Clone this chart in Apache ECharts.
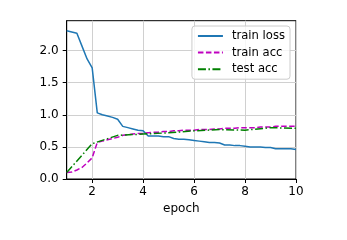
<!DOCTYPE html>
<html>
<head>
<meta charset="utf-8">
<script src="https://cdn.jsdelivr.net/npm/echarts@6/dist/echarts.min.js"></script>
<style>html,body{margin:0;padding:0;background:#fff;}#c{width:347px;height:240px;}</style>
</head>
<body>
<div id="c"></div>
<script>
const trainX = [1.0,1.2,1.4,1.6,1.8,2.0,2.2,2.4,2.6,2.8,3.0,3.2,3.4,3.6,3.8,4.0,4.2,4.4,4.6,4.8,5.0,5.2,5.4,5.6,5.8,6.0,6.2,6.4,6.6,6.8,7.0,7.2,7.4,7.6,7.8,8.0,8.2,8.4,8.6,8.8,9.0,9.2,9.4,9.6,9.8,10.0];
const trainLoss = [2.31,2.29,2.27,2.07,1.87,1.73,1.03,1.00,0.98,0.96,0.93,0.82,0.80,0.78,0.76,0.75,0.67,0.67,0.67,0.66,0.66,0.63,0.62,0.62,0.61,0.60,0.59,0.58,0.57,0.57,0.56,0.53,0.53,0.52,0.52,0.51,0.50,0.50,0.50,0.49,0.49,0.47,0.47,0.47,0.47,0.46];
const trainAcc = [0.10,0.11,0.14,0.18,0.25,0.33,0.57,0.59,0.61,0.63,0.65,0.68,0.69,0.70,0.71,0.71,0.72,0.73,0.73,0.74,0.74,0.75,0.75,0.76,0.76,0.76,0.77,0.77,0.77,0.78,0.78,0.79,0.79,0.79,0.80,0.80,0.80,0.80,0.81,0.81,0.81,0.82,0.82,0.82,0.82,0.82];
const testX = [1,2,3,4,5,6,7,8,9,10];
const testAcc = [0.10,0.55,0.68,0.70,0.72,0.75,0.77,0.76,0.80,0.79];
const xTicks = [2,4,6,8,10];
const yTicks = [0,0.5,1.0,1.5,2.0];
const seriesNames = ['train loss','train acc','test acc'];

const font = 'DejaVu Sans';
const pair = (xs, ys) => xs.map((x, i) => [x, ys[i]]);
const chart = echarts.init(document.getElementById('c'), null, {renderer: 'canvas'});
chart.setOption({
  animation: false,
  backgroundColor: '#fff',
  grid: {left: 66.7, right: 51, top: 20.7, bottom: 61, show: true, borderColor: '#000', borderWidth: 1, backgroundColor: 'transparent'},
  xAxis: {
    type: 'value', min: 1, max: 10,
    name: 'epoch', nameLocation: 'middle', nameGap: 23,
    nameTextStyle: {fontFamily: font, fontSize: 12, color: '#000'},
    axisLine: {show: true, lineStyle: {color: '#000', width: 1}},
    axisTick: {show: true, length: 4, inside: false, customValues: xTicks, lineStyle: {color: '#000'}},
    axisLabel: {customValues: xTicks, fontFamily: font, fontSize: 12, color: '#000', margin: 6.5},
    splitLine: {show: true, lineStyle: {color: '#d0d0d0', width: 1}}
  },
  yAxis: {
    type: 'value', min: 0, max: 2.466,
    axisLine: {show: true, lineStyle: {color: '#000', width: 1}},
    axisTick: {show: true, length: 4, customValues: yTicks, lineStyle: {color: '#000'}},
    axisLabel: {customValues: yTicks, fontFamily: font, fontSize: 12, color: '#000', margin: 8, formatter: v => v.toFixed(1)},
    splitLine: {show: true, lineStyle: {color: '#d0d0d0', width: 1}}
  },
  legend: {
    orient: 'vertical', right: 57, top: 26,
    data: seriesNames,
    itemWidth: 25, itemHeight: 14, itemGap: 4.6,
    padding: [4, 5, 4, 5],
    backgroundColor: 'rgba(255,255,255,0.8)',
    borderColor: '#cccccc', borderWidth: 1, borderRadius: 3,
    itemStyle: {opacity: 0},
    textStyle: {fontFamily: font, fontSize: 11.6, color: '#000', padding: [0, 0, 0, 4]}
  },
  series: [
    {name: seriesNames[0], type: 'line', data: pair(trainX, trainLoss), showSymbol: false, symbol: 'none', color: '#1f77b4', lineStyle: {width: 1.5, color: '#1f77b4'}, clip: true},
    {name: seriesNames[1], type: 'line', data: pair(trainX, trainAcc), showSymbol: false, symbol: 'none', color: '#bf00bf', lineStyle: {width: 1.5, color: '#bf00bf', type: [5.5, 2.5]}, clip: true},
    {name: seriesNames[2], type: 'line', data: pair(testX, testAcc), showSymbol: false, symbol: 'none', color: '#008000', lineStyle: {width: 1.5, color: '#008000', type: [8, 2.5, 1.5, 2.5]}, clip: true}
  ]
});
</script>
</body>
</html>
